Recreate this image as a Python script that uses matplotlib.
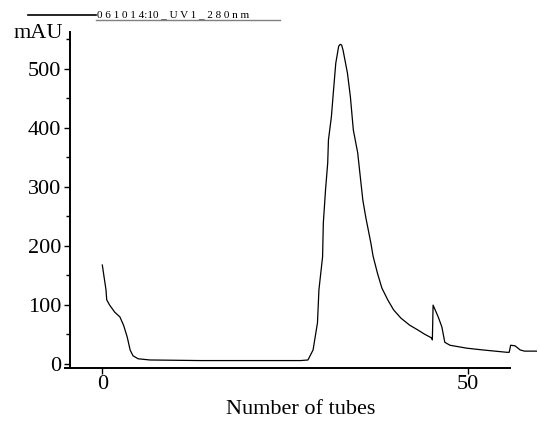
import numpy as np
import matplotlib
matplotlib.use('Agg')
from matplotlib import pyplot as plt
from matplotlib.ticker import MultipleLocator

#Chromatogram points (tube number, mAU)
Tube = [0.0, 0.2, 0.5, 0.6, 1.0, 1.7, 2.4, 2.9, 3.4, 3.8, 4.2, 4.9, 6.5, 13.4, 20.0,
        27.1, 28.1, 28.8, 29.4, 29.6, 30.1, 30.2, 30.5, 30.8, 30.9, 31.3, 31.6,
        31.9, 32.3, 32.5, 32.7, 32.9, 33.5, 33.9, 34.3, 34.9, 35.3, 35.6, 36.0,
        36.7, 37.0, 37.6, 38.2, 39.0, 39.8, 40.8, 42.0, 43.1, 44.0, 45.05, 45.1,
        45.2, 45.9, 46.4, 46.8, 47.5, 49.8, 52.0, 55.3, 55.6, 55.8, 56.4, 57.1,
        57.7, 59.4]
MAU = [167, 150, 125, 108, 99, 87, 79, 65, 45, 23, 13, 8, 6, 5, 5,
       5, 6, 23, 69, 125, 181, 238, 294, 340, 379, 418, 464,
       509, 538, 541, 540, 531, 492, 452, 396, 357, 311, 277, 248,
       204, 182, 153, 128, 108, 91, 77, 65, 57, 50, 43, 40,
       99, 79, 62, 36, 31, 26, 23, 19, 19, 31, 30, 23,
       21, 21]
X_Ticks = [0, 50]
Y_Ticks = [0, 100, 200, 300, 400, 500]
Header = '0 6 1 0 1 4:10 _ U V 1 _ 2 8 0 n m'

plt.rcParams['font.family'] = ['Liberation Serif', 'DejaVu Serif']

fig = plt.figure(figsize=(5.4, 4.23), dpi=100)
ax = fig.add_axes([65/540, 1-368/423, (537-65)/540, (368-32)/423])

ax.plot(Tube, MAU, color='black', lw=0.9)
ax.set_xlim(-5.1, 59.4)
ax.set_ylim(-7.6, 562)

#Axis lines: only left and bottom, bottom stops before the end of the trace
for s in ['top', 'right']:
    ax.spines[s].set_visible(False)
ax.spines['bottom'].set_bounds(-5.1, 55.7)
ax.spines['left'].set_position(('data', -4.45))
ax.spines['left'].set_linewidth(1.4)
ax.spines['bottom'].set_linewidth(1.4)

ax.set_xticks(X_Ticks)
ax.set_yticks(Y_Ticks)
ax.yaxis.set_minor_locator(MultipleLocator(50))
ax.tick_params(axis='both', which='major', labelsize=16, length=4, width=1, direction='out')
ax.tick_params(axis='y', which='minor', length=3, width=1)
ax.tick_params(axis='x', pad=1)
ax.tick_params(axis='y', pad=2)

ax.set_xlabel('Number of tubes', fontsize=16, labelpad=4)
fig.text(63/540, 1-33/423, 'mAU', fontsize=16, ha='right', va='center')

#Header line with run name
fig.add_artist(plt.Line2D([28/540, 96/540], [1-15/423, 1-15/423], color='black', lw=1.2))
fig.add_artist(plt.Line2D([96/540, 280/540], [1-20/423, 1-20/423], color='gray', lw=1))
fig.text(97/540, 1-19/423, Header, fontsize=8, ha='left', va='bottom')

plt.savefig('out.png', dpi=100)
